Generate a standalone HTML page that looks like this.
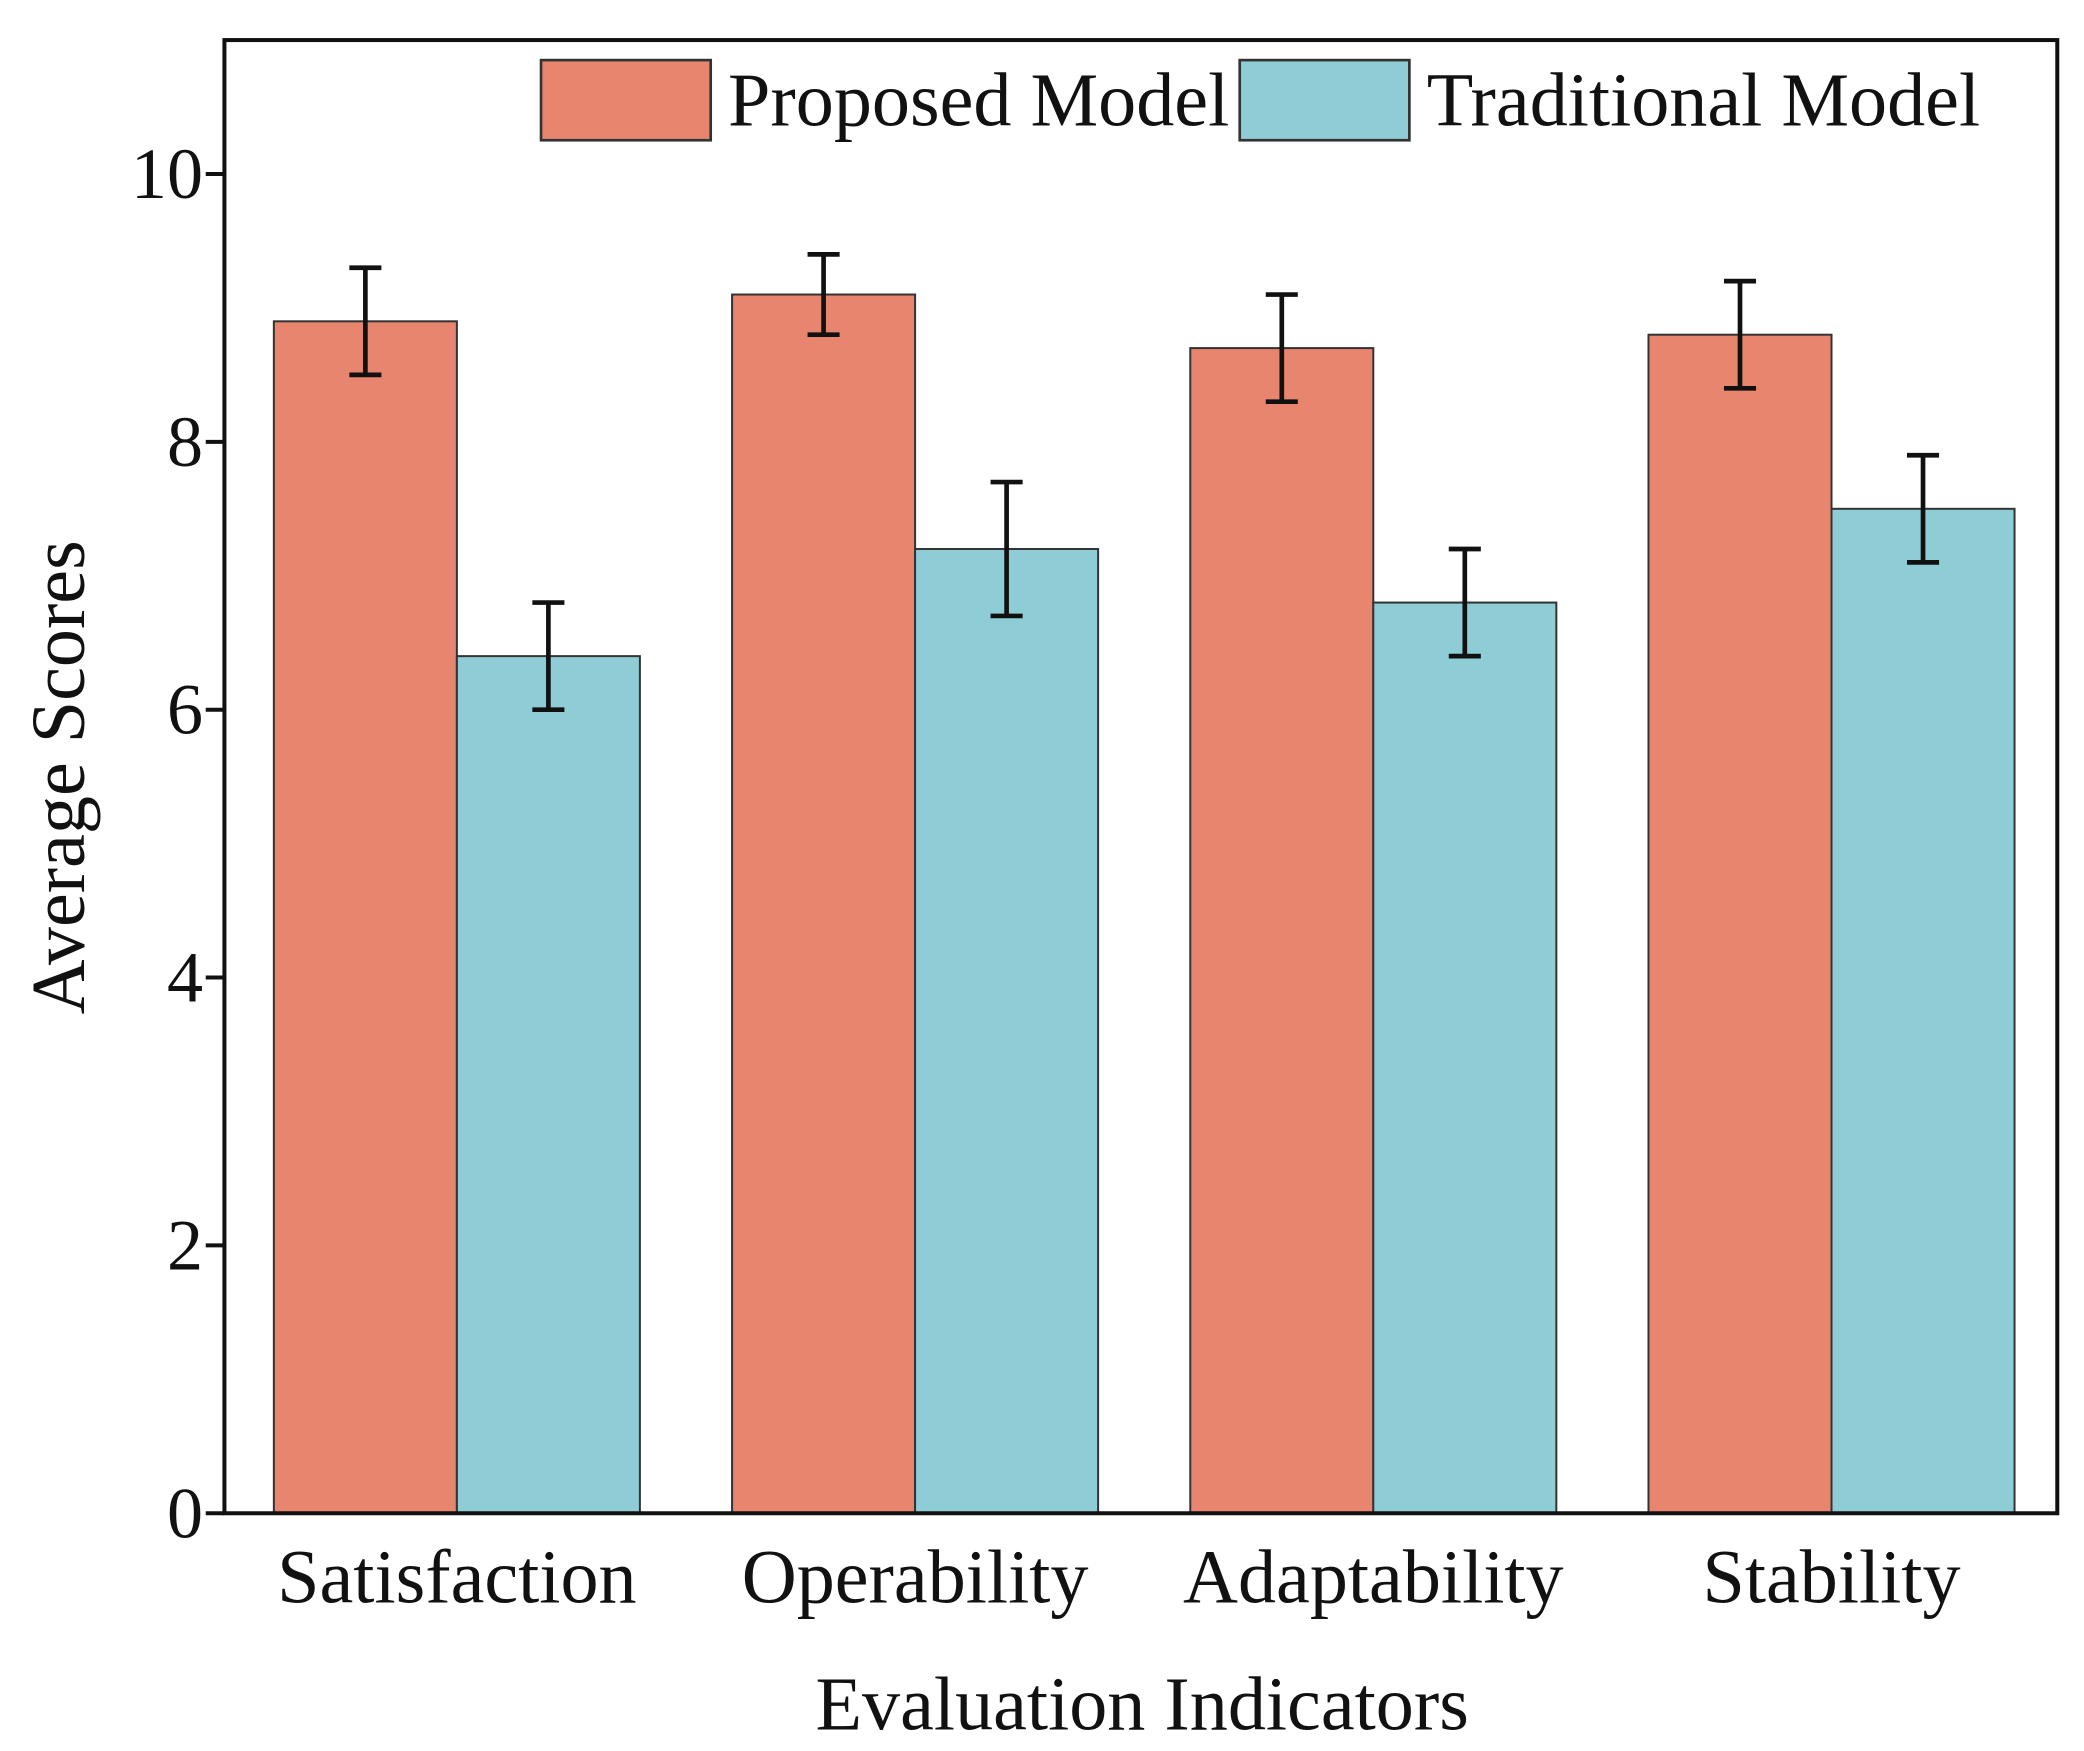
<!DOCTYPE html>
<html><head><meta charset="utf-8"><style>
html,body{margin:0;padding:0;background:#fff;}
svg{display:block;}
text{font-family:"Liberation Serif",serif;fill:#111;}
</style></head><body>
<svg id="chart" width="2084" height="1751" viewBox="0 0 1560 1311" preserveAspectRatio="none" xmlns="http://www.w3.org/2000/svg">
<g id="plot"></g>
</svg>
<script>
const categories = ["Satisfaction","Operability","Adaptability","Stability"];
const proposedValues = [8.9, 9.1, 8.7, 8.8];
const proposedErrors = [0.4, 0.3, 0.4, 0.4];
const traditionalValues = [6.4, 7.2, 6.8, 7.5];
const traditionalErrors = [0.4, 0.5, 0.4, 0.4];
const yTicks = [0, 2, 4, 6, 8, 10];
const seriesNames = ["Proposed Model", "Traditional Model"];

const NS = "http://www.w3.org/2000/svg";
const L = 168, R = 1540, T = 30, B = 1133;
const yMin = 0, yMax = 11;
function yScale(v){ return B - (v - yMin) / (yMax - yMin) * (B - T); }
const band = 343;
function xCenter(i){ return 342 + band * i; }
const barW = 137;
const g = document.getElementById('plot');
function mk(tag, attrs, parent){
  const e = document.createElementNS(NS, tag);
  for (const k in attrs) e.setAttribute(k, attrs[k]);
  (parent || g).appendChild(e);
  return e;
}
const colors = ["#e8856e", "#8fcdd6"];
const series = [[proposedValues, proposedErrors], [traditionalValues, traditionalErrors]];
series.forEach((s, si) => {
  s[0].forEach((v, i) => {
    const x0 = xCenter(i) - barW + si * barW;
    const r = mk('rect', {x: x0, y: yScale(v), width: barW, height: B - yScale(v), fill: colors[si], stroke: '#333', 'stroke-width': 1.5});
    
    
  });
});
series.forEach((s, si) => {
  s[0].forEach((v, i) => {
    const cx = xCenter(i) - barW / 2 + si * barW;
    const e = s[1][i];
    const eg = mk('g', {stroke: '#111', 'stroke-width': 3.5});
    
    
    mk('line', {x1: cx, x2: cx, y1: yScale(v + e), y2: yScale(v - e)}, eg);
    mk('line', {x1: cx - 12, x2: cx + 12, y1: yScale(v + e), y2: yScale(v + e)}, eg);
    mk('line', {x1: cx - 12, x2: cx + 12, y1: yScale(v - e), y2: yScale(v - e)}, eg);
  });
});
const frame = mk('rect', {x: L, y: T, width: R - L, height: B - T, fill: 'none', stroke: '#111', 'stroke-width': 3});


yTicks.forEach(t => {
  const y = yScale(t);
  const tl = mk('line', {x1: L - 14, x2: L, y1: y, y2: y, stroke: '#111', 'stroke-width': 3});
  
  
  const tx = mk('text', {x: L - 16, y: y + 18, 'text-anchor': 'end', 'font-size': 54});
  tx.textContent = t;
  
  
});
categories.forEach((c, i) => {
  const tx = mk('text', {x: xCenter(i), y: 1200, 'text-anchor': 'middle', 'font-size': 57});
  tx.textContent = c;
  
  
});
const xt = mk('text', {x: 855, y: 1295, 'text-anchor': 'middle', 'font-size': 57});
xt.textContent = "Evaluation Indicators";


const yt = mk('text', {x: 0, y: 0, 'text-anchor': 'middle', 'font-size': 57, transform: 'translate(63,582) rotate(-90)'});
yt.textContent = "Average Scores";


const legendX = [405, 928];
seriesNames.forEach((n, si) => {
  const lg = mk('g', {});
  
  
  mk('rect', {x: legendX[si], y: 45, width: 127, height: 60, fill: colors[si], stroke: '#333', 'stroke-width': 2}, lg);
  const t = mk('text', {x: legendX[si] + 140, y: 94, 'font-size': 57}, lg);
  t.textContent = n;
});
</script>
</body></html>
